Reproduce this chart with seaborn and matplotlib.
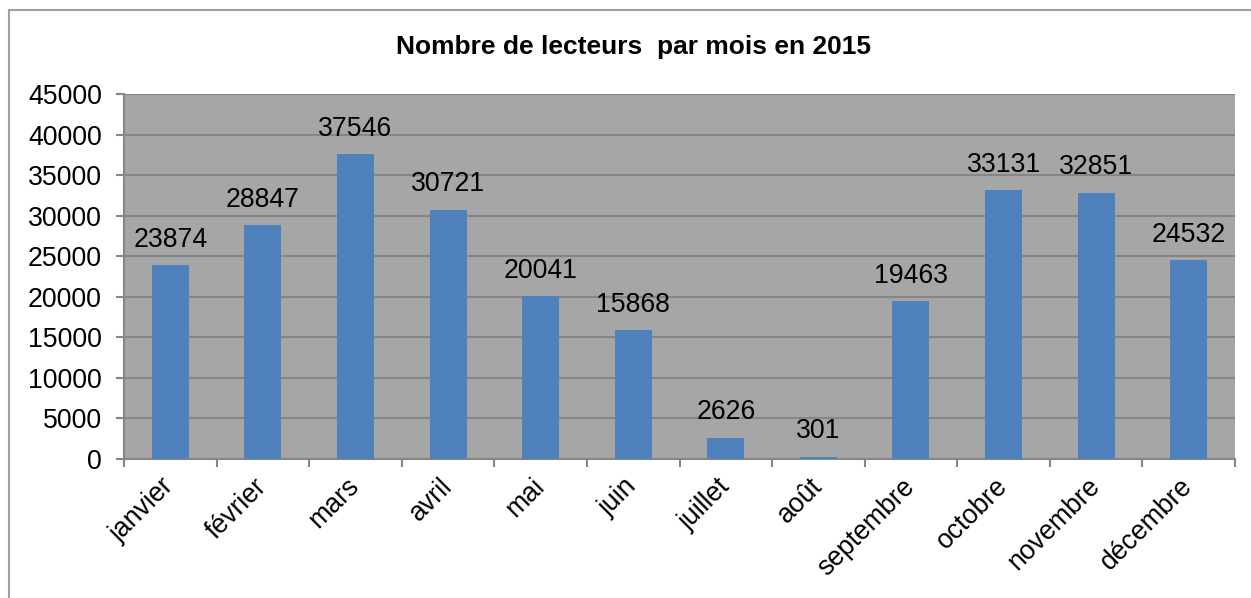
import matplotlib
matplotlib.use("Agg")
import matplotlib.pyplot as plt
from matplotlib.patches import Rectangle
from matplotlib.ticker import FixedLocator
import seaborn as sns
import pandas as pd

# Monthly readership, 2015
mois = ["janvier", "février", "mars", "avril", "mai", "juin", "juillet",
        "août", "septembre", "octobre", "novembre", "décembre"]
lecteurs = [23874, 28847, 37546, 30721, 20041, 15868, 2626,
            301, 19463, 33131, 32851, 24532]
titre = "Nombre de lecteurs  par mois en 2015"
y_ticks = list(range(0, 45001, 5000))

sns.set_theme(style="white")
plt.rcParams["font.family"] = ["Liberation Sans", "DejaVu Sans"]

W, H = 1251, 598
fig = plt.figure(figsize=(W / 100, H / 100), dpi=100)
ax = fig.add_axes([124 / W, 1 - 459 / H, (1235 - 124) / W, (459 - 94) / H])

df = pd.DataFrame({"mois": mois, "lecteurs": lecteurs})
sns.barplot(data=df, x="mois", y="lecteurs", color="#4F81BD", saturation=1,
            width=0.4, linewidth=0, edgecolor="none", ax=ax, zorder=3)

ax.set_facecolor("#A6A6A6")
ax.set_ylim(0, 45000)
ax.set_xlim(-0.5, len(mois) - 0.5)
ax.set_yticks(y_ticks)
ax.set_yticklabels([str(v) for v in y_ticks])
ax.yaxis.grid(True, color="#868686", linewidth=1.5, zorder=0)
ax.set_axisbelow(True)
ax.set_xlabel("")
ax.set_ylabel("")

for side in ("top", "right"):
    ax.spines[side].set_visible(False)
for side in ("left", "bottom"):
    ax.spines[side].set_color("#868686")
    ax.spines[side].set_linewidth(1.5)

ax.tick_params(axis="y", direction="out", length=6, width=1.5, color="#868686",
               labelsize=19.2, pad=10, left=True, labelcolor="black")
ax.xaxis.set_minor_locator(FixedLocator([i - 0.5 for i in range(len(mois) + 1)]))
ax.tick_params(axis="x", which="minor", direction="out", length=6, width=1.5,
               color="#868686", bottom=True)
ax.tick_params(axis="x", which="major", length=0, labelsize=19.2, pad=17,
               labelcolor="black")
for lab in ax.get_xticklabels():
    lab.set_rotation(45)
    lab.set_rotation_mode("anchor")
    lab.set_ha("right")
    lab.set_va("center")

ax.bar_label(ax.containers[0], labels=[str(v) for v in lecteurs],
             padding=9, fontsize=19.2, color="black")

fig.text(634 / W, 1 - 47 / H, titre, ha="center", va="center",
         fontsize=19, fontweight="bold", color="black")

fig.add_artist(Rectangle((9 / W, -0.1), 1.2, 1.1 - 10 / H,
                         transform=fig.transFigure, fill=False,
                         edgecolor="#A0A0A0", linewidth=1.5))

fig.savefig("out.png", dpi=100)
